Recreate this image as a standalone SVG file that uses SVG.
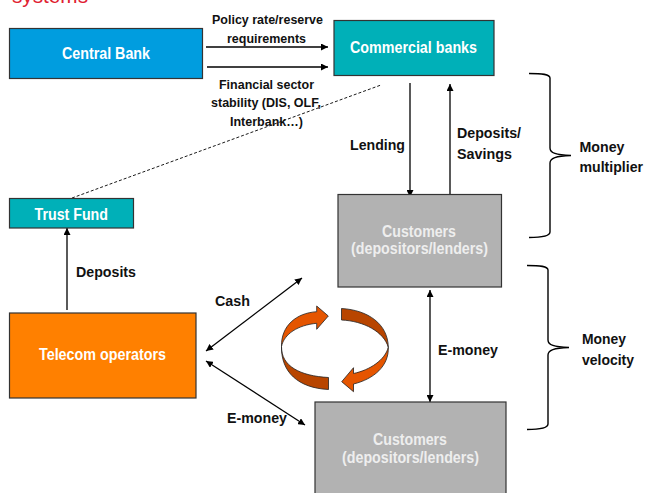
<svg xmlns="http://www.w3.org/2000/svg" width="645" height="493" viewBox="0 0 645 493">
<style>
text{font-family:"Liberation Sans",Arial,sans-serif;font-weight:bold}
.w{fill:#fff;font-size:16px}
.g{fill:#eee;font-size:16px}
.k{fill:#111;font-size:15.5px}
.s{fill:#111;font-size:13.5px}
.n{stroke:#333;stroke-width:1.2}
.c{fill:none;stroke:#000;stroke-width:1.3}
.b{fill:none;stroke:#000;stroke-width:1.4}
.o{fill:#E55500;stroke:#222;stroke-width:.8}
.d{fill:#B84500;stroke:#222;stroke-width:.8}
</style>
<defs>
<marker id="e" markerUnits="userSpaceOnUse" markerWidth="8" markerHeight="7" refX="7" refY="3.500" orient="auto-start-reverse"><path d="M0 0L7 3.500L0 7Z" fill="#000"/></marker>
</defs>
<text x="12" y="2.500" style="fill:#e02030;font-weight:normal;font-size:21px" textLength="76" lengthAdjust="spacingAndGlyphs">systems</text>
<g id="connectors">
<path class="c" marker-end="url(#e)" d="M206 47H328"/>
<path class="c" marker-end="url(#e)" d="M207 67H328"/>
<path class="c" stroke-dasharray="3 2" style="stroke-width:.9" d="M72 198L381 85"/>
<path class="c" marker-end="url(#e)" d="M410 83V197"/>
<path class="c" marker-end="url(#e)" d="M450 195V84"/>
<path class="c" marker-end="url(#e)" d="M67 310V228"/>
<path class="c" marker-start="url(#e)" marker-end="url(#e)" d="M206 351L302 278"/>
<path class="c" marker-start="url(#e)" marker-end="url(#e)" d="M206 361L305 425"/>
<path class="c" marker-start="url(#e)" marker-end="url(#e)" d="M430 290V402"/>
</g>
<g id="central-bank"><rect class="n" x="9.500" y="28.500" width="193" height="50" fill="#009DDF"/><text class="w" x="62" y="58.500" textLength="88" lengthAdjust="spacingAndGlyphs">Central Bank</text></g>
<g id="commercial-banks"><rect class="n" x="334" y="20.500" width="160" height="55" fill="#00B0B8"/><text class="w" x="350" y="52.500" textLength="127" lengthAdjust="spacingAndGlyphs">Commercial banks</text></g>
<g id="trust-fund"><rect class="n" x="9.500" y="198.500" width="124" height="29.500" fill="#00B0B8"/><text class="w" x="34.500" y="219.500" textLength="73.500" lengthAdjust="spacingAndGlyphs">Trust Fund</text></g>
<g id="telecom"><rect class="n" x="9.500" y="313" width="186.500" height="85" fill="#FF8000"/><text class="w" x="39" y="360.200" textLength="127" lengthAdjust="spacingAndGlyphs">Telecom operators</text></g>
<g id="customers-1"><rect class="n" x="338" y="194.500" width="163.500" height="92.500" fill="#B2B2B2"/><text class="g" x="382" y="236.500" textLength="74" lengthAdjust="spacingAndGlyphs">Customers</text><text class="g" x="351" y="254" textLength="137" lengthAdjust="spacingAndGlyphs">(depositors/lenders)</text></g>
<g id="customers-2"><rect class="n" x="315" y="402" width="191" height="100" fill="#B2B2B2"/><text class="g" x="373" y="445.200" textLength="74" lengthAdjust="spacingAndGlyphs">Customers</text><text class="g" x="342" y="463" textLength="137" lengthAdjust="spacingAndGlyphs">(depositors/lenders)</text></g>
<g id="cycle">
<path class="d" d="M281.500 346.500C281 366 300 376 328.500 377.500V389.500C298 388 281 372 281.500 346.500Z"/>
<path class="o" d="M281.500 346.500C281 326 296 313 316.700 311.700V306L328.300 316L316.700 329.300V323.300C298 325 284 334 281.500 346.500Z"/>
<path class="d" d="M341.500 308.500C368 310 388 324 388.300 347.300C384 332 364 321 341.500 320Z"/>
<path class="o" d="M388.300 347.300C389 366 374 379 353.500 384V391.700L341.700 381.700L353.500 367.700V373.500C370 370 385 360 388.300 347.300Z"/>
</g>
<g id="brace-1"><path class="b" d="M529 73.500C542 73.500 550 74 550 78V148C550 153 556 155 571 155.500C556 156 550 158 550 163V232C550 236 542 237.500 529 237.500"/></g>
<g id="brace-2"><path class="b" d="M527 265.500C540 265.500 548 266 548 270V340C548 345 554 347 569 347.500C554 348 548 350 548 355V424C548 428 540 429.500 527 429.500"/></g>
<g id="labels">
<text class="s" x="212" y="24" textLength="111" lengthAdjust="spacingAndGlyphs">Policy rate/reserve</text>
<text class="s" x="227" y="42.500" textLength="79" lengthAdjust="spacingAndGlyphs">requirements</text>
<text class="s" x="219" y="89" textLength="95" lengthAdjust="spacingAndGlyphs">Financial sector</text>
<text class="s" x="211" y="106.700" textLength="110" lengthAdjust="spacingAndGlyphs">stability (DIS, OLF,</text>
<text class="s" x="230" y="126" textLength="73" lengthAdjust="spacingAndGlyphs">Interbank…)</text>
<text class="k" x="350" y="150" textLength="55" lengthAdjust="spacingAndGlyphs">Lending</text>
<text class="k" x="457" y="137.700" textLength="64" lengthAdjust="spacingAndGlyphs">Deposits/</text>
<text class="k" x="457" y="159" textLength="55" lengthAdjust="spacingAndGlyphs">Savings</text>
<text class="k" x="579.500" y="151.500" textLength="45" lengthAdjust="spacingAndGlyphs">Money</text>
<text class="k" x="579.500" y="171.700" textLength="63.500" lengthAdjust="spacingAndGlyphs">multiplier</text>
<text class="k" x="76" y="277" textLength="60" lengthAdjust="spacingAndGlyphs">Deposits</text>
<text class="k" x="215" y="306" textLength="35" lengthAdjust="spacingAndGlyphs">Cash</text>
<text class="k" x="227" y="422.700" textLength="60" lengthAdjust="spacingAndGlyphs">E-money</text>
<text class="k" x="438" y="355" textLength="60" lengthAdjust="spacingAndGlyphs">E-money</text>
<text class="k" x="582" y="344" textLength="44" lengthAdjust="spacingAndGlyphs">Money</text>
<text class="k" x="582" y="365" textLength="52" lengthAdjust="spacingAndGlyphs">velocity</text>
</g>
</svg>
